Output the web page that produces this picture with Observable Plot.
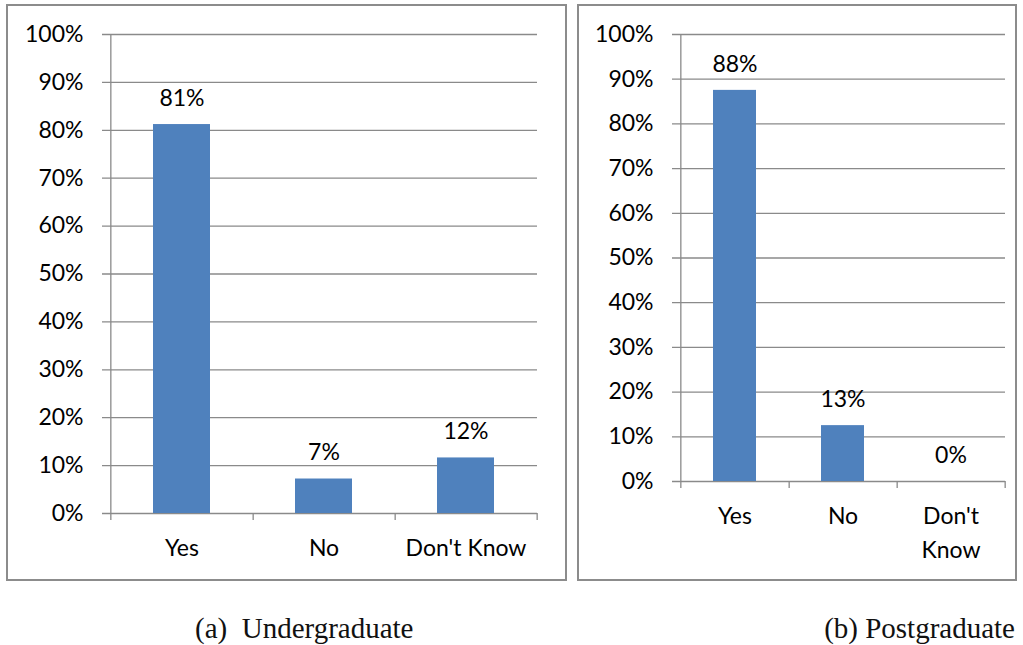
<!DOCTYPE html>
<html>
<head>
<meta charset="utf-8">
<script src="https://cdn.jsdelivr.net/npm/d3@7"></script>
<script src="https://cdn.jsdelivr.net/npm/@observablehq/plot@0.6"></script>
<style>
  html, body { margin: 0; padding: 0; background: #fff; }
  #page { position: relative; width: 1023px; height: 645px; overflow: hidden; background: #fff; }
  .panel { position: absolute; border: 2px solid #8c8c8c; box-sizing: border-box; }
  .panel svg { display: block; }
  .cap { position: absolute; font-family: "Liberation Serif", "Times New Roman", serif; font-size: 29px; line-height: 29px; color: #111; white-space: pre; }
</style>
</head>
<body>
<div id="page">
  <div class="panel" id="pa" style="left:6px; top:4px; width:561px; height:577px;"></div>
  <div class="panel" id="pb" style="left:577px; top:4px; width:440px; height:577px;"></div>
  <div class="cap" style="left:195px; top:614px;">(a)  Undergraduate</div>
  <div class="cap" style="right:8px; top:614px;">(b) Postgraduate</div>
</div>
<script>
// ---- data ----
const categories = ["Yes", "No", "Don't Know"];
const undergradValues = [81.2, 7.2, 11.6];
const undergradLabels = ["81%", "7%", "12%"];
const postgradValues = [87.5, 12.5, 0];
const postgradLabels = ["88%", "13%", "0%"];
const yTicks = [0, 10, 20, 30, 40, 50, 60, 70, 80, 90, 100];

const BAR = "#4f81bd";
const GRID = "#8a8a8a";
const FONT = "Lato";
const FS = 23;

function panel({values, labels, width, height, marginLeft, marginRight, marginTop, marginBottom, wrap}) {
  const rows = categories.map((c, i) => ({cat: c, value: values[i], label: labels[i]}));
  const step = (width - marginLeft - marginRight) / categories.length;
  return Plot.plot({
    width, height, marginLeft, marginRight, marginTop, marginBottom,
    style: {fontFamily: FONT, fontSize: FS + "px", color: "#000", background: "transparent"},
    x: {type: "band", domain: categories, paddingInner: 0.6, paddingOuter: 0.3},
    y: {domain: [0, 100]},
    marks: [
      Plot.ruleY(yTicks, {y: d => d, stroke: GRID, strokeWidth: 1.3, insetLeft: -8}),
      Plot.ruleX([categories[0]], {x: d => d, dx: -step / 2, y1: 100, y2: 0, insetBottom: -7, stroke: GRID, strokeWidth: 1.3}),
      Plot.ruleX(categories, {x: d => d, dx: step / 2, y1: 0, y2: 0, insetBottom: -7, stroke: GRID, strokeWidth: 1.3}),
      Plot.barY(rows, {x: "cat", y: "value", fill: BAR}),
      Plot.text(rows, {x: "cat", y: "value", text: "label", dy: -26, lineAnchor: "middle", fill: "#000", fontSize: FS}),
      Plot.axisY({ticks: yTicks, tickSize: 0, tickPadding: 27, tickFormat: d => d + "%", label: null, fontSize: FS}),
      Plot.axisX({tickSize: 0, tickPadding: 23, dy: -4, label: null, fontSize: FS, lineHeight: 1.45,
        tickFormat: d => (wrap && d === "Don't Know") ? "Don't\nKnow" : d})
    ]
  });
}

document.getElementById("pa").appendChild(panel({
  values: undergradValues, labels: undergradLabels,
  width: 557, height: 573, marginLeft: 102, marginRight: 28, marginTop: 28, marginBottom: 66, wrap: false
}));
document.getElementById("pb").appendChild(panel({
  values: postgradValues, labels: postgradLabels,
  width: 436, height: 573, marginLeft: 101, marginRight: 10, marginTop: 28, marginBottom: 98, wrap: true
}));
</script>
</body>
</html>
